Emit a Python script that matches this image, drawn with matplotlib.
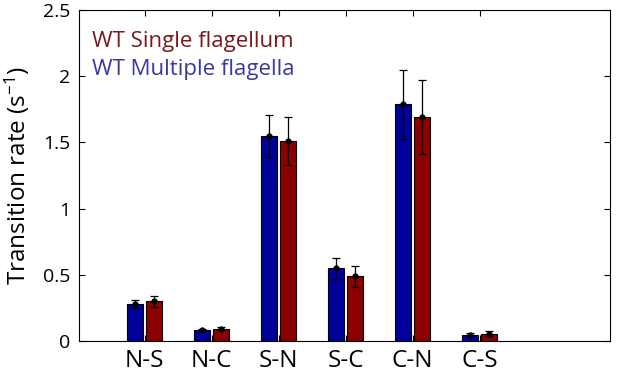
import numpy as np
import matplotlib
matplotlib.use("Agg")
import matplotlib.pyplot as plt

plt.rcParams['font.family'] = ['Open Sans', 'DejaVu Sans']
plt.rcParams['mathtext.default'] = 'regular'

categories = ['N-S', 'N-C', 'S-N', 'S-C', 'C-N', 'C-S']
multiple = [0.28, 0.083, 1.55, 0.55, 1.79, 0.05]
multiple_err = [0.03, 0.01, 0.16, 0.08, 0.26, 0.015]
single = [0.30, 0.093, 1.51, 0.49, 1.69, 0.055]
single_err = [0.04, 0.012, 0.18, 0.08, 0.28, 0.02]

blue = '#00009a'
red = '#8b0000'

fig = plt.figure(figsize=(6.17, 3.72), dpi=100)
ax = fig.add_axes([0.128, 0.083, 0.861, 0.89])

x = np.arange(1, len(categories) + 1)
w = 0.24
off = 0.14
ax.bar(x - off, multiple, w, color=blue, edgecolor='black', linewidth=0.8, zorder=2)
ax.bar(x + off, single, w, color=red, edgecolor='black', linewidth=0.8, zorder=2)
ax.errorbar(x - off, multiple, yerr=multiple_err, fmt='o', color='black', ms=3.5,
            capsize=3, elinewidth=0.9, capthick=0.9, zorder=3)
ax.errorbar(x + off, single, yerr=single_err, fmt='o', color='black', ms=3.5,
            capsize=3, elinewidth=0.9, capthick=0.9, zorder=3)

ax.set_xlim(0.02, 7.95)
ax.set_ylim(0, 2.5)
ax.set_xticks(x)
ax.set_xticklabels(categories)
ax.set_yticks([0, 0.5, 1, 1.5, 2, 2.5])
ax.set_yticklabels(['0', '0.5', '1', '1.5', '2', '2.5'])
ax.tick_params(direction='in', top=True, right=True, length=4)
ax.tick_params(axis='x', labelsize=17.5, pad=5.5)
ax.tick_params(axis='y', labelsize=14, pad=6)
for s in ax.spines.values():
    s.set_linewidth(0.8)
ax.set_ylabel('Transition rate (s$^{-1}$)', fontsize=17.5, labelpad=8)

ax.text(0.025, 0.906, 'WT Single flagellum', transform=ax.transAxes, color='#7a1a1a',
        fontsize=16, va='center')
ax.text(0.025, 0.82, 'WT Multiple flagella', transform=ax.transAxes, color='#3a3a9a',
        fontsize=16, va='center')

fig.savefig('out.png', dpi=100)
